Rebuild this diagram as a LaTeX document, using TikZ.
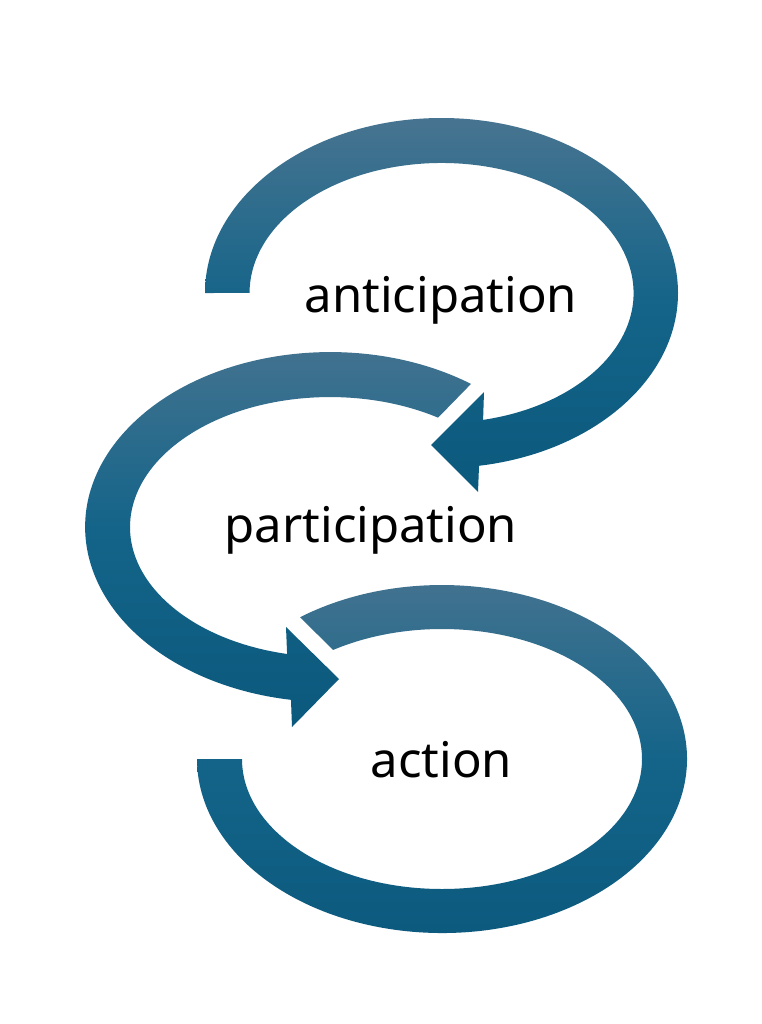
\documentclass[tikz,border=0pt]{standalone}
\usepackage{fontspec}
\setmainfont{Noto Sans}
\definecolor{bandtop}{RGB}{71,116,144}
\definecolor{bandmid}{RGB}{20,100,137}
\definecolor{bandbot}{RGB}{11,89,125}
\begin{document}
\begin{tikzpicture}[x=0.75pt,y=-0.75pt,
  band/.style={top color=bandtop, bottom color=bandbot, middle color=bandmid},
  lbl/.style={font=\fontsize{36.8}{40}\selectfont, text=black, inner sep=0pt, anchor=base}]
\useasboundingbox[fill=white] (0,0) rectangle (762,1024);
% loop 1 (anticipation)
\shade[band] (205,293) arc[start angle=180, end angle=440.87, x radius=236.5, y radius=175]
  -- (478,492) -- (431,445) -- (484,392) -- (483.1,419.9)
  arc[start angle=437.5, end angle=180, x radius=192, y radius=130] -- cycle;
% loop 2 (participation)
\shade[band] (471,383.9) arc[start angle=-54.9, end angle=-260.8, x radius=245, y radius=175]
  -- (292,727) -- (339,679) -- (286,627) -- (287.1,654)
  arc[start angle=-257.6, end angle=-57.3, x radius=200, y radius=130] -- cycle;
% loop 3 (action)
\shade[band] (300.1,617.2) arc[start angle=-125.4, end angle=180, x radius=245, y radius=174]
  -- (242,759) arc[start angle=180, end angle=-123, x radius=200, y radius=130] -- cycle;
\node[lbl] (ant) at (441,312) {anticipation};
\node[lbl] (par) at (371,542) {participation};
\node[lbl] (act) at (441.5,777) {action};
\end{tikzpicture}
\end{document}
